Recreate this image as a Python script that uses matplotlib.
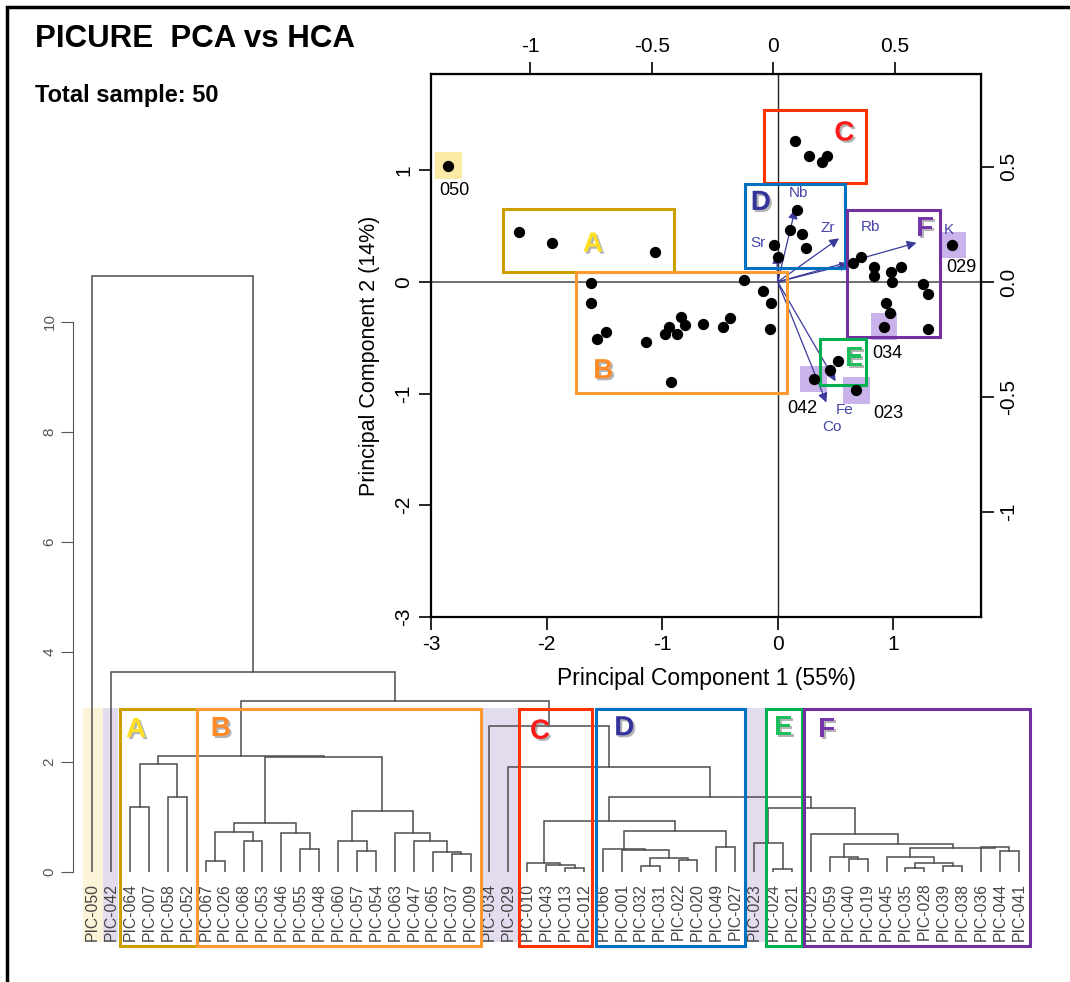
import matplotlib.pyplot as plt
from matplotlib.patches import Rectangle
import matplotlib.patheffects as pe

plt.rcParams['font.family'] = ['Liberation Sans', 'DejaVu Sans']

W, H = 1070, 982

# ---------------- PCA scores ----------------
pc1 = [-2.24, -1.95, -1.06,
       -1.62, -1.62, -1.56, -1.49, -1.14, -0.98, -0.94, -0.87, -0.84, -0.80,
       -0.65, -0.47, -0.41, -0.92, -0.29, -0.13, -0.06, -0.07,
       0.15, 0.27, 0.38, 0.43,
       0.17, 0.11, 0.21, 0.24, -0.03, 0.005,
       0.65, 0.72, 0.83, 0.83, 0.98, 0.99, 1.07, 1.26, 1.30, 0.94, 0.97, 1.30,
       0.52, 0.45]
pc2 = [0.45, 0.35, 0.27,
       -0.01, -0.19, -0.51, -0.45, -0.54, -0.47, -0.40, -0.47, -0.31, -0.39,
       -0.38, -0.40, -0.32, -0.90, 0.02, -0.08, -0.19, -0.42,
       1.26, 1.13, 1.07, 1.13,
       0.64, 0.46, 0.43, 0.30, 0.33, 0.22,
       0.17, 0.22, 0.13, 0.05, 0.09, 0.00, 0.13, -0.02, -0.11, -0.19, -0.28, -0.42,
       -0.71, -0.79]

# highlighted (outlier) samples
hl_names = ['050', '034', '029', '042', '023']
hl_pc1 = [-2.85, 0.92, 1.51, 0.31, 0.68]
hl_pc2 = [1.04, -0.40, 0.33, -0.87, -0.97]
hl_colors = ['#fbe9a6', '#c9b3ea', '#c9b3ea', '#c9b3ea', '#c9b3ea']

# loadings (drawn in PC1/PC2 units)
load_names = ['Nb', 'Zr', 'Sr', 'Rb', 'K', 'Fe', 'Co']
load_pc1 = [0.15, 0.53, -0.01, 0.62, 1.20, 0.50, 0.42]
load_pc2 = [0.65, 0.39, 0.25, 0.16, 0.35, -0.89, -1.08]

# ---------------- HCA dendrogram ----------------
leaf_labels = ['PIC-050', 'PIC-042', 'PIC-064', 'PIC-007', 'PIC-058', 'PIC-052',
               'PIC-067', 'PIC-026', 'PIC-068', 'PIC-053', 'PIC-046', 'PIC-055',
               'PIC-048', 'PIC-060', 'PIC-057', 'PIC-054', 'PIC-063', 'PIC-047',
               'PIC-065', 'PIC-037', 'PIC-009', 'PIC-034', 'PIC-029', 'PIC-010',
               'PIC-043', 'PIC-013', 'PIC-012', 'PIC-066', 'PIC-001', 'PIC-032',
               'PIC-031', 'PIC-022', 'PIC-020', 'PIC-049', 'PIC-027', 'PIC-023',
               'PIC-024', 'PIC-021', 'PIC-025', 'PIC-059', 'PIC-040', 'PIC-019',
               'PIC-045', 'PIC-035', 'PIC-028', 'PIC-039', 'PIC-038', 'PIC-036',
               'PIC-044', 'PIC-041']
merge_a = [2, 4, 50, 6, 8, 53, 11, 10, 55, 14, 13, 19, 18, 17, 16, 60, 58, 52,
           25, 24, 23, 29, 31, 71, 28, 27, 33, 75, 70, 36, 35, 40, 39, 43, 45, 83,
           42, 48, 47, 86, 82, 38, 80, 78, 22, 21, 67, 1, 0]
merge_b = [3, 5, 51, 7, 9, 54, 12, 56, 57, 15, 59, 20, 61, 62, 63, 64, 65, 66,
           26, 68, 69, 30, 32, 72, 73, 74, 34, 76, 77, 37, 79, 41, 81, 44, 46, 84,
           85, 49, 87, 88, 89, 90, 91, 92, 93, 94, 95, 96, 97]
merge_h = [1.17, 1.36, 1.95, 0.19, 0.56, 0.72, 0.42, 0.70, 0.88, 0.38, 0.56, 0.32,
           0.36, 0.56, 0.70, 1.11, 2.09, 2.11, 0.07, 0.12, 0.16, 0.10, 0.21, 0.255,
           0.40, 0.41, 0.45, 0.74, 0.92, 0.05, 0.52, 0.24, 0.26, 0.07, 0.10, 0.15,
           0.26, 0.38, 0.45, 0.425, 0.50, 0.68, 1.15, 1.35, 1.91, 2.65, 3.10, 3.64,
           10.84]

FRAME = {'A': '#cc9f00', 'B': '#ff9a33', 'C': '#ff3300', 'D': '#0070c0',
         'E': '#00b050', 'F': '#7030a0'}
LETTER = {'A': '#ffdf1f', 'B': '#ff8a26', 'C': '#ff1a1a', 'D': '#33339c',
          'E': '#1cbf5c', 'F': '#7636ad'}
ARROW = '#3a3a9c'


def px_axes(fig, x0, y0, x1, y1, z):
    ax = fig.add_axes([x0 / W, 1 - y1 / H, (x1 - x0) / W, (y1 - y0) / H])
    ax.set_zorder(z)
    return ax


def shadow_text(ax, x, y, s, color, fs=20):
    ax.text(x, y, s, color=color, fontsize=fs, weight='bold', ha='center', va='center',
            path_effects=[pe.withSimplePatchShadow(offset=(1.5, -1.5),
                                                   shadow_rgbFace='#777777', alpha=0.55)])


def main():
    fig = plt.figure(figsize=(W / 100, H / 100), dpi=100)
    fig.patch.set_facecolor('white')

    # underlay: shading behind dendrogram leaves
    under = px_axes(fig, 0, 0, W, H, 0)
    under.set_xlim(0, W)
    under.set_ylim(H, 0)
    under.axis('off')
    under.add_patch(Rectangle((83, 708), 19.7, 234, fc='#fcf4d8', ec='none'))
    for x0, x1 in [(102.7, 118.3), (482.7, 500.5), (500.5, 519.3), (746.7, 765.7)]:
        under.add_patch(Rectangle((x0, 708), x1 - x0, 234, fc='#e3dcef', ec='none'))

    # ---------------- dendrogram ----------------
    dax = px_axes(fig, 73.4, 266.7, 1037.8, 871.7, 1)
    dax.patch.set_alpha(0)
    n = len(leaf_labels)
    xs = {i: float(i) for i in range(n)}
    hs = {i: 0.0 for i in range(n)}
    for k, (a, b, h) in enumerate(zip(merge_a, merge_b, merge_h)):
        dax.plot([xs[a], xs[a], xs[b], xs[b]], [hs[a], h, h, hs[b]],
                 color='#4d4d4d', lw=1.1, solid_joinstyle='miter')
        xs[n + k] = (xs[a] + xs[b]) / 2
        hs[n + k] = h
    dax.set_xlim(-1, 50)
    dax.set_ylim(0, 11)
    for s in ['top', 'right', 'bottom']:
        dax.spines[s].set_visible(False)
    dax.spines['left'].set_bounds(0, 10)
    dax.spines['left'].set_color('#555555')
    dax.set_yticks([0, 2, 4, 6, 8, 10])
    dax.tick_params(axis='y', length=9, color='#555555', labelsize=11,
                    labelcolor='#555555', labelrotation=90, pad=3)
    for lab in dax.get_yticklabels():
        lab.set_va('center')
    dax.set_xticks(range(n))
    dax.set_xticklabels(leaf_labels, rotation=90, fontsize=11.3, color='#444444', va='top')
    dax.tick_params(axis='x', length=0, pad=8)

    # ---------------- PCA biplot ----------------
    pax = px_axes(fig, 431, 74, 981, 617, 2)
    pax.set_xlim(-3, 1.758)
    pax.set_ylim(-3, 1.861)
    pax.axhline(0, color='#555555', lw=1.2, zorder=1)
    pax.axvline(0, color='#222222', lw=1.0, zorder=1)

    boxes = {'A': (-2.376, 0.092, -0.897, 0.656), 'B': (-1.745, -0.994, 0.079, 0.086),
             'C': (-0.122, 0.886, 0.761, 1.536), 'D': (-0.283, 0.125, 0.582, 0.877),
             'F': (0.602, -0.492, 1.404, 0.641), 'E': (0.366, -0.919, 0.764, -0.508)}
    for key, (x0, y0, x1, y1) in boxes.items():
        pax.add_patch(Rectangle((x0, y0), x1 - x0, y1 - y0, fill=False,
                                ec=FRAME[key], lw=2.2, zorder=4))

    for x, y, c in zip(hl_pc1, hl_pc2, hl_colors):
        pax.add_patch(Rectangle((x - 0.115, y - 0.12), 0.23, 0.24, fc=c, ec='none', zorder=2))

    for name, x, y in zip(load_names, load_pc1, load_pc2):
        pax.annotate('', xy=(x, y), xytext=(0, 0),
                     arrowprops=dict(arrowstyle='-|>', color=ARROW, lw=0.9,
                                     mutation_scale=14, shrinkA=0, shrinkB=0), zorder=3)
    lab_pos = {'Nb': (0.18, 0.80), 'Zr': (0.43, 0.48), 'Sr': (-0.17, 0.35),
               'Rb': (0.80, 0.49), 'K': (1.48, 0.46), 'Fe': (0.58, -1.15),
               'Co': (0.47, -1.30)}
    for name in load_names:
        lx, ly = lab_pos[name]
        pax.text(lx, ly, name, color='#4444a8', fontsize=11, ha='center', va='center', zorder=6)

    pax.scatter(pc1 + hl_pc1, pc2 + hl_pc2, s=66, color='black', zorder=5, lw=0)

    hl_lab = {'050': (-2.80, 0.82), '034': (0.95, -0.645), '029': (1.59, 0.125),
              '042': (0.21, -1.135), '023': (0.96, -1.175)}
    for name in hl_names:
        lx, ly = hl_lab[name]
        pax.text(lx, ly, name, fontsize=13, ha='center', va='center', zorder=6)

    letter_pos = {'A': (-1.60, 0.334), 'B': (-1.51, -0.80), 'C': (0.576, 1.328),
                  'D': (-0.147, 0.707), 'E': (0.66, -0.687), 'F': (1.274, 0.474)}
    for key, (lx, ly) in letter_pos.items():
        shadow_text(pax, lx, ly, key, LETTER[key])

    for s in pax.spines.values():
        s.set_linewidth(1.6)
    pax.set_xticks([-3, -2, -1, 0, 1], ['-3', '-2', '-1', '0', '1'])
    pax.set_yticks([-3, -2, -1, 0, 1], ['-3', '-2', '-1', '0', '1'])
    pax.tick_params(length=9, width=1.2, labelsize=15, pad=4)
    pax.tick_params(axis='y', labelrotation=90)
    for lab in pax.get_yticklabels():
        lab.set_va('center')
    pax.set_xlabel('Principal Component 1 (55%)', fontsize=16.5, labelpad=9)
    pax.set_ylabel('Principal Component 2 (14%)', fontsize=15.5, labelpad=4)
    pax.yaxis.set_label_coords(-0.092, 0.48)

    top = pax.secondary_xaxis('top', functions=(lambda p: (p + 0.04) / 2.1,
                                                lambda s: 2.1 * s - 0.04))
    top.set_xticks([-1, -0.5, 0, 0.5], ['-1', '-0.5', '0', '0.5'])
    top.tick_params(length=9, width=1.2, labelsize=15, pad=4)
    right = pax.secondary_yaxis('right', functions=(lambda p: p / 2.06, lambda s: s * 2.06))
    right.set_yticks([-1, -0.5, 0, 0.5], ['-1', '-0.5', '0.0', '0.5'])
    right.tick_params(length=9, width=1.2, labelsize=15, pad=4, labelrotation=90)
    for lab in right.get_yticklabels():
        lab.set_va('center')

    # ---------------- overlay: frames, group boxes, titles ----------------
    over = px_axes(fig, 0, 0, W, H, 3)
    over.set_xlim(0, W)
    over.set_ylim(H, 0)
    over.axis('off')
    over.plot([7, 7, W], [H, 7, 7], color='black', lw=2.5, solid_joinstyle='miter')
    dboxes = {'A': (120, 196.7), 'B': (196.7, 480.7), 'C': (519.3, 592.3),
              'D': (595.7, 745), 'E': (765.7, 802.3), 'F': (804, 1030)}
    for key, (x0, x1) in dboxes.items():
        over.add_patch(Rectangle((x0, 709), x1 - x0, 237, fill=False, ec=FRAME[key], lw=2.2))
    dletters = {'A': (136, 730), 'B': (220.7, 729), 'C': (540, 731.7),
                'D': (624.3, 728.3), 'E': (783.3, 728.3), 'F': (826.7, 730)}
    for key, (lx, ly) in dletters.items():
        shadow_text(over, lx, ly, key, LETTER[key])

    over.text(35, 47, 'PICURE  PCA vs HCA', fontsize=22.5, weight='bold', ha='left',
              va='baseline')
    over.text(35, 102, 'Total sample: 50', fontsize=17, weight='bold', ha='left',
              va='baseline')

    fig.savefig('out.png', dpi=100, facecolor='white')
    plt.close(fig)


if __name__ == '__main__':
    main()
